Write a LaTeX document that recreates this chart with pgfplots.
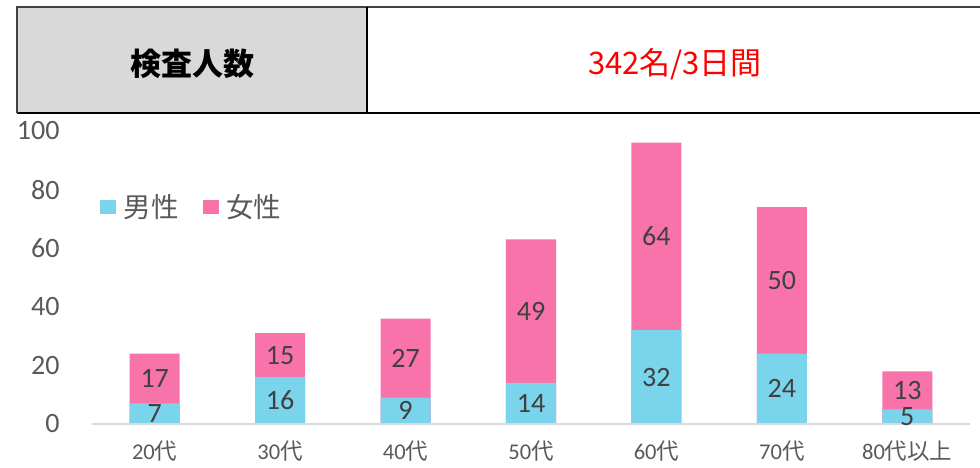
\documentclass[border=0pt]{standalone}
\usepackage{fontspec}
\setmainfont{Carlito}
\newfontfamily\jp{Noto Sans CJK JP}
\usepackage{pgfplots}
\usepackage{pgfplotstable}
\pgfplotsset{compat=1.18}
\definecolor{male}{HTML}{79D4EC}
\definecolor{female}{HTML}{F773A9}
\definecolor{tickc}{HTML}{595959}
\definecolor{labc}{HTML}{404040}
\definecolor{hdr}{HTML}{D9D9D9}
\definecolor{axc}{HTML}{D9D9D9}
\pgfplotstableread{
x male female
0 7 17
1 16 15
2 9 27
3 14 49
4 32 64
5 24 50
6 5 13
}\data
\begin{document}
\begin{tikzpicture}[x=1pt,y=1pt]
\path[use as bounding box] (0,0) rectangle (980,468);
% header table
\fill[hdr] (17,355) rectangle (367,461);
\draw[line width=1.2pt,black] (17,355) -- (980,355);
\draw[line width=2pt,black!75] (17,461) -- (980,461);
\draw[line width=1.6pt,black!75] (17,355) -- (17,462);
\draw[line width=1.2pt,black] (367,355) -- (367,461);
\node[font=\jp\bfseries\fontsize{31}{36}\selectfont] at (192,404) {検査人数};
\node[font=\jp\fontsize{31}{36}\selectfont, text=red] at (675,404) {342名/3日間};
\begin{axis}[
  at={(92pt,44pt)}, anchor=south west,
  scale only axis, width=878pt, height=293pt,
  xmin=-0.5, xmax=6.5, ymin=0, ymax=100,
  axis line style={draw=none},
  ytick={0,20,...,100},
  xtick={0,...,6},
  xticklabels={20{\jp 代},30{\jp 代},40{\jp 代},50{\jp 代},60{\jp 代},70{\jp 代},80{\jp 代以上}},
  major tick length=0pt,
  /pgf/number format/assume math mode=true,
  yticklabel style={font=\fontsize{28}{32}\selectfont, text=tickc, xshift=-29pt},
  xticklabel style={font=\fontsize{22.5}{26}\selectfont, text=tickc, yshift=-16pt, inner sep=1pt},
  clip=false,
  legend style={at={(rel axis cs:0.006,0.742)}, anchor=west, draw=none, fill=none,
    font=\jp\fontsize{27.5}{32}\selectfont, text=tickc, legend columns=2,
    /tikz/every odd column/.append style={column sep=6pt},
    /tikz/every even column/.append style={column sep=22pt}},
  legend image code/.code={\fill[#1] (0pt,-6.5pt) rectangle (15pt,6.5pt);},
]
\addlegendimage{male}
\addlegendentry{男性}
\addlegendimage{female}
\addlegendentry{女性}
\addplot[ybar, bar width=50pt, bar shift=0pt, fill=female, draw=none, forget plot]
  table[x=x, y expr=\thisrow{male}+\thisrow{female}] {\data};
\addplot[ybar, bar width=50pt, bar shift=0pt, fill=male, draw=none, forget plot]
  table[x=x, y=male] {\data};
\draw[axc, line width=1.3pt] (axis cs:-0.5,0) -- (axis cs:6.5,0);
\addplot[draw=none, mark=none, forget plot, nodes near coords, point meta=explicit,
  every node near coord/.append style={anchor=center, font=\fontsize{28}{32}\selectfont, text=labc}]
  table[x=x, y expr=\thisrow{male}/2, meta=male] {\data};
\addplot[draw=none, mark=none, forget plot, nodes near coords, point meta=explicit,
  every node near coord/.append style={anchor=center, font=\fontsize{28}{32}\selectfont, text=labc}]
  table[x=x, y expr=\thisrow{male}+\thisrow{female}/2, meta=female] {\data};
\end{axis}
\end{tikzpicture}
\end{document}
